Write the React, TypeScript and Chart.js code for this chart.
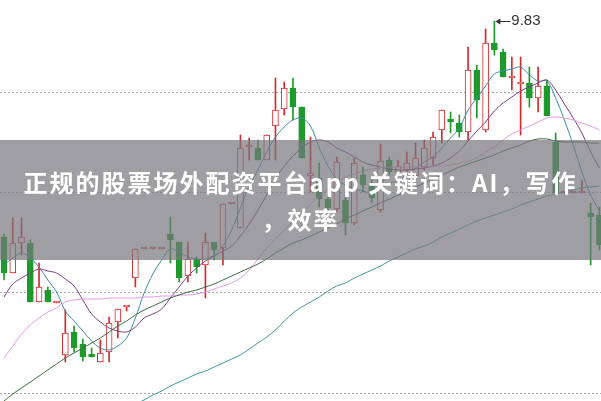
import React, { useEffect, useRef } from "react";
import { Chart, registerables } from "chart.js";

Chart.register(...registerables);

// ---- data (prices) ----
const opens = [
  8.75, 8.57, 8.72, 8.72, 8.425, 8.485, 8.42, 8.16, 8.275, 8.215,
  8.165, 8.125, 8.175, 8.325, 8.4, 8.545, 8.69, 8.69, 8.69, 8.765,
  8.725, 8.555, 8.64, 8.61, 8.725, 8.695, 8.915, 8.795, 9.2, 9.195,
  9.135, 9.305, 9.39, 9.495, 9.4, 9.055, 9.045, 8.94, 8.89, 8.935,
  8.82, 9.06, 9.01, 8.885, 9.135, 9.075, 9.085, 9.055, 9.1, 9.145,
  9.285, 9.34, 9.32, 9.275, 9.585, 9.285, 9.72, 9.675, 9.545, 9.515,
  9.52, 9.445, 9.505, 9.225, 8.97, 8.97, 8.97, 8.87, 8.86,
];
const closes = [
  8.57, 8.72, 8.75, 8.425, 8.5, 8.425, 8.42, 8.27, 8.195, 8.15,
  8.15, 8.17, 8.32, 8.39, 8.4, 8.69, 8.69, 8.69, 8.69, 8.735,
  8.545, 8.64, 8.6, 8.725, 8.685, 8.915, 8.915, 9.195, 9.21, 9.135,
  9.26, 9.385, 9.495, 9.4, 9.145, 9.07, 8.94, 8.895, 9.125, 8.82,
  9.12, 9.01, 8.945, 9.13, 9.075, 9.105, 9.12, 9.145, 9.195, 9.25,
  9.385, 9.325, 9.275, 9.585, 9.435, 9.72, 9.685, 9.55, 9.555, 9.525,
  9.445, 9.505, 9.355, 8.97, 8.97, 8.97, 8.97, 8.85, 8.71,
];
const highs = [
  8.765, 8.845, 8.845, 8.735, 8.62, 8.5, 8.42, 8.385, 8.305, 8.24,
  8.195, 8.235, 8.35, 8.39, 8.4, 8.69, 8.69, 8.69, 8.69, 8.85,
  8.725, 8.725, 8.65, 8.77, 8.725, 8.915, 8.915, 9.26, 9.245, 9.235,
  9.26, 9.545, 9.525, 9.545, 9.4, 9.25, 9.12, 8.96, 9.15, 8.96,
  9.145, 9.1, 9.035, 9.215, 9.15, 9.135, 9.175, 9.22, 9.235, 9.275,
  9.385, 9.375, 9.36, 9.7, 9.61, 9.79, 9.83, 9.69, 9.65, 9.65,
  9.6, 9.6, 9.535, 9.27, 8.97, 8.97, 9.035, 8.92, 8.9,
];
const lows = [
  8.535, 8.57, 8.66, 8.425, 8.425, 8.425, 8.42, 8.125, 8.175, 8.13,
  8.15, 8.125, 8.125, 8.245, 8.38, 8.5, 8.69, 8.69, 8.69, 8.62,
  8.525, 8.525, 8.57, 8.445, 8.635, 8.61, 8.915, 8.795, 9.135, 9.135,
  9.135, 9.135, 9.36, 9.335, 9.145, 8.975, 8.9, 8.875, 8.875, 8.76,
  8.81, 8.975, 8.92, 8.875, 9.06, 9.055, 9.06, 9.045, 9.085, 9.11,
  9.22, 9.27, 9.25, 9.235, 9.345, 9.275, 9.66, 9.55, 9.485, 9.26,
  9.4, 9.375, 9.355, 8.97, 8.97, 8.97, 8.97, 8.61, 8.685,
];

const ma5 = [
  8.61, 8.645, 8.67, 8.645, 8.6, 8.535, 8.475, 8.38, 8.33, 8.28,
  8.23, 8.195, 8.185, 8.205, 8.245, 8.345, 8.47, 8.565, 8.635, 8.69,
  8.675, 8.65, 8.64, 8.64, 8.66, 8.705, 8.785, 8.895, 9.005, 9.085,
  9.175, 9.25, 9.3, 9.335, 9.345, 9.305, 9.195, 9.105, 9.04, 9.01,
  8.99, 8.98, 8.97, 8.995, 9.015, 9.035, 9.06, 9.095, 9.125, 9.15,
  9.195, 9.245, 9.295, 9.385, 9.445, 9.505, 9.565, 9.58, 9.59, 9.6,
  9.56, 9.53, 9.53, 9.445, 9.335, 9.21, 9.075, 8.96, 8.88,
];
const ma10 = [
  8.45, 8.515, 8.545, 8.57, 8.59, 8.58, 8.57, 8.54, 8.505, 8.435,
  8.365, 8.325, 8.295, 8.28, 8.275, 8.3, 8.345, 8.365, 8.39, 8.445,
  8.5, 8.555, 8.595, 8.63, 8.655, 8.68, 8.705, 8.755, 8.815, 8.885,
  8.96, 9.04, 9.105, 9.155, 9.195, 9.225, 9.235, 9.225, 9.195, 9.175,
  9.15, 9.125, 9.11, 9.1, 9.09, 9.085, 9.085, 9.09, 9.095, 9.105,
  9.12, 9.145, 9.18, 9.23, 9.28, 9.325, 9.38, 9.42, 9.45, 9.48,
  9.5, 9.52, 9.535, 9.485, 9.415, 9.345, 9.27, 9.175, 9.095,
];
const ma20 = [
  8.145, 8.205, 8.265, 8.31, 8.345, 8.375, 8.395, 8.425, 8.435, 8.44,
  8.44, 8.44, 8.445, 8.445, 8.445, 8.445, 8.45, 8.45, 8.455, 8.455,
  8.46, 8.46, 8.465, 8.475, 8.49, 8.505, 8.52, 8.545, 8.585, 8.64,
  8.695, 8.74, 8.785, 8.83, 8.87, 8.915, 8.955, 8.99, 9.025, 9.05,
  9.065, 9.08, 9.09, 9.095, 9.1, 9.1, 9.1, 9.1, 9.1, 9.105,
  9.105, 9.11, 9.12, 9.13, 9.145, 9.175, 9.2, 9.235, 9.265, 9.285,
  9.305, 9.325, 9.345, 9.35, 9.345, 9.335, 9.32, 9.305, 9.285,
];
const ma30 = [
  7.93, 7.965, 7.995, 8.025, 8.055, 8.085, 8.115, 8.145, 8.17, 8.195,
  8.22, 8.245, 8.275, 8.305, 8.33, 8.36, 8.385, 8.405, 8.425, 8.445,
  8.46, 8.475, 8.485, 8.5, 8.515, 8.535, 8.555, 8.575, 8.595, 8.615,
  8.64, 8.67, 8.695, 8.72, 8.735, 8.755, 8.775, 8.795, 8.815, 8.84,
  8.86, 8.88, 8.9, 8.92, 8.94, 8.96, 8.98, 9.0, 9.02, 9.04,
  9.06, 9.08, 9.1, 9.115, 9.13, 9.145, 9.16, 9.18, 9.195, 9.21,
  9.23, 9.24, 9.24, 9.23, 9.225, 9.225, 9.225, 9.22, 9.22,
];
const ma60 = [
  null, null, null, null, null, null, null, null, null, null,
  null, null, null, null, null, 7.915, 7.935, 7.96, 7.98, 8.005,
  8.025, 8.045, 8.065, 8.08, 8.1, 8.12, 8.14, 8.16, 8.19, 8.22,
  8.25, 8.285, 8.33, 8.37, 8.4, 8.425, 8.45, 8.48, 8.505, 8.52,
  8.545, 8.565, 8.585, 8.605, 8.63, 8.65, 8.67, 8.69, 8.705, 8.725,
  8.75, 8.77, 8.79, 8.81, 8.83, 8.845, 8.86, 8.875, 8.89, 8.91,
  8.925, 8.94, 8.955, 8.965, 8.975, 8.985, 8.995, 9.0, 9.005,
];

const gridLevels = [7.97, 8.47, 8.97, 9.475];
const priceMin = 7.93;
const priceMax = 9.935;

const titleLine1 = "正规的股票场外配资平台app 关键词：AI，写作";
const titleLine2 = "，效率";

const RED = "#d42a2e";
const GREEN = "#1e9a2c";

export default function App() {
  const canvasRef = useRef<HTMLCanvasElement | null>(null);

  useEffect(() => {
    document.body.style.margin = "0";
    document.body.style.overflow = "hidden";
    const canvas = canvasRef.current;
    if (!canvas) return;

    const n = opens.length;
    const idx = Array.from({ length: n }, (_, i) => i);
    const isUp = idx.map((i) => closes[i] >= opens[i]);

    const lineDs = (data: (number | null)[], color: string, label: string) => ({
      type: "line" as const,
      label,
      data: data.map((v, i) => ({ x: i, y: v })),
      borderColor: color,
      borderWidth: 1,
      pointRadius: 0,
      tension: 0.35,
      fill: false,
      order: 1,
    });

    const peakLabel = {
      id: "peakLabel",
      afterDatasetsDraw(chart: any) {
        const ctx = chart.ctx;
        const maxHigh = Math.max(...highs);
        const i = highs.indexOf(maxHigh);
        const x = chart.scales.x.getPixelForValue(i);
        const y = chart.scales.y.getPixelForValue(maxHigh);
        ctx.save();
        ctx.strokeStyle = "#333";
        ctx.fillStyle = "#333";
        ctx.lineWidth = 1;
        ctx.beginPath();
        ctx.moveTo(x + 4, y + 0.5);
        ctx.lineTo(x + 16, y + 0.5);
        ctx.stroke();
        ctx.beginPath();
        ctx.moveTo(x + 1, y + 0.5);
        ctx.lineTo(x + 6, y - 2.5);
        ctx.lineTo(x + 6, y + 3.5);
        ctx.closePath();
        ctx.fill();
        ctx.font = "15px 'Liberation Sans', Arial, sans-serif";
        ctx.textBaseline = "middle";
        ctx.fillText(maxHigh.toFixed(2), x + 17, y);
        ctx.restore();
      },
    };

    const chart = new Chart(canvas, {
      type: "bar",
      data: {
        datasets: [
          {
            type: "bar",
            label: "wick",
            data: idx.map((i) => ({ x: i, y: [lows[i], highs[i]] })) as any,
            backgroundColor: idx.map((i) => (isUp[i] ? RED : GREEN)),
            borderWidth: 0,
            barThickness: 1,
            grouped: false,
            minBarLength: 1,
            order: 3,
          } as any,
          {
            type: "bar",
            label: "body",
            data: idx.map((i) => ({ x: i, y: [opens[i], closes[i]] })) as any,
            backgroundColor: idx.map((i) => (isUp[i] ? "#ffffff" : GREEN)),
            borderColor: idx.map((i) => (isUp[i] ? RED : GREEN)),
            borderWidth: 1,
            borderSkipped: false,
            barThickness: 6,
            grouped: false,
            minBarLength: 2,
            order: 2,
          } as any,
          lineDs(ma60, "#3f97a2", "MA60"),
          lineDs(ma30, "#3a6b3e", "MA30"),
          lineDs(ma20, "#e39be6", "MA20"),
          lineDs(ma10, "#803e80", "MA10"),
          lineDs(ma5, "#3b8daa", "MA5"),
        ],
      },
      options: {
        responsive: false,
        animation: false,
        layout: { padding: 0 },
        plugins: {
          legend: { display: false },
          tooltip: { enabled: false },
        },
        scales: {
          x: {
            type: "linear",
            min: -0.46,
            max: 68.18,
            offset: false,
            display: false,
          },
          y: {
            type: "linear",
            min: priceMin,
            max: priceMax,
            beginAtZero: false,
            display: true,
            afterBuildTicks: (scale: any) => {
              scale.ticks = gridLevels.map((v) => ({ value: v }));
            },
            ticks: { display: false },
            grid: {
              drawTicks: false,
              color: "#a8a8a8",
              lineWidth: 1,
            },
            border: { display: false, dash: [2, 2] },
          },
        },
      } as any,
      plugins: [peakLabel],
    });

    return () => chart.destroy();
  }, []);

  return (
    <div style={{ position: "relative", width: 601, height: 401, overflow: "hidden", background: "#fff" }}>
      <canvas ref={canvasRef} width={601} height={401} style={{ display: "block" }} />
      <div
        style={{
          position: "absolute",
          left: 0,
          top: 140,
          width: 601,
          height: 120,
          background: "rgba(118,118,124,0.7)",
          display: "flex",
          flexDirection: "column",
          justifyContent: "center",
          alignItems: "center",
          color: "#ffffff",
          fontFamily: "'Noto Sans CJK SC', 'Noto Sans', sans-serif",
          fontWeight: 700,
          fontSize: 24,
          letterSpacing: "2px",
          lineHeight: "37px",
          textAlign: "center",
        }}
      >
        <div style={{ whiteSpace: "nowrap" }}>{titleLine1}</div>
        <div style={{ whiteSpace: "nowrap" }}>{titleLine2}</div>
      </div>
    </div>
  );
}
